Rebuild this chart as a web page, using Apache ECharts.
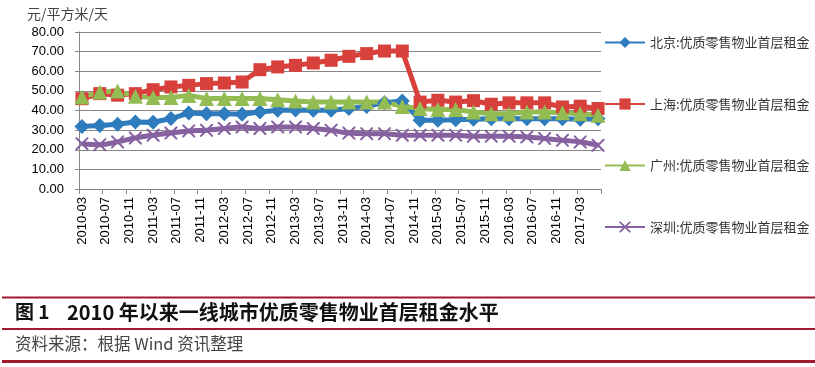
<!DOCTYPE html>
<html>
<head>
<meta charset="utf-8">
<script src="https://cdn.jsdelivr.net/npm/echarts@6/dist/echarts.min.js"></script>
<style>
html,body{margin:0;padding:0;background:#fff;}
#c{width:815px;height:367px;}
</style>
</head>
<body>
<div id="c"></div>
<script>
// Quarterly observation dates
const quarters = ['2010-03','2010-06','2010-09','2010-12','2011-03','2011-06','2011-09','2011-12',
  '2012-03','2012-06','2012-09','2012-12','2013-03','2013-06','2013-09','2013-12',
  '2014-03','2014-06','2014-09','2014-12','2015-03','2015-06','2015-09','2015-12',
  '2016-03','2016-06','2016-09','2016-12','2017-03','2017-06'];
const seriesNames = ['北京:优质零售物业首层租金','上海:优质零售物业首层租金','广州:优质零售物业首层租金','深圳:优质零售物业首层租金'];
const beijing = [31.9,32.3,33.0,34.1,34.0,35.9,38.7,38.3,38.3,38.1,39.2,40.1,40.3,40.1,40.1,41.0,42.1,44.0,44.8,35.0,35.0,35.3,35.5,35.8,35.8,35.8,35.8,35.8,35.5,35.8];
const shanghai = [46.0,48.6,47.8,48.6,50.6,52.0,52.8,53.7,54.0,54.5,60.8,62.2,63.0,64.2,65.6,67.6,69.0,70.3,70.3,44.3,45.2,44.3,45.0,43.2,43.9,43.9,43.9,41.8,42.2,41.0];
const guangzhou = [46.9,49.4,49.9,47.2,46.6,46.6,47.7,46.1,46.1,46.1,46.1,45.5,44.8,44.3,44.3,44.3,44.3,44.3,42.1,41.0,40.5,40.5,39.2,38.4,38.4,39.2,39.2,38.9,38.4,37.6];
const shenzhen = [23.1,22.6,24.0,26.0,27.4,28.5,29.6,29.9,30.8,31.6,30.8,31.6,31.6,30.8,29.9,28.5,28.2,28.2,27.4,27.4,27.4,27.4,26.9,26.9,26.9,26.5,25.7,24.8,24.0,22.3];
const unitLabel = '元/平方米/天';
const figTitleNo = '图 1';
const figTitle = '2010 年以来一线城市优质零售物业首层租金水平';
const sourceText = '资料来源：根据 Wind 资讯整理';

// monthly category axis (date axis, monthly base unit)
const months = [];
(function(){
  let y = 2010, m = 3;
  while (y < 2017 || (y === 2017 && m <= 6)) {
    months.push(y + '-' + (m < 10 ? '0' + m : '' + m));
    m++; if (m > 12) { m = 1; y++; }
  }
})();
function toMonthly(vals){
  const map = {};
  quarters.forEach((q,i)=>{ map[q] = vals[i]; });
  return months.map(mo => (mo in map) ? map[mo] : null);
}

const colors = ['#2E7CBD','#D8403B','#93BC52','#8661A0'];
const xPath = 'path://M0,0 L1.1,0 L5,3.9 L8.9,0 L10,0 L10,1.1 L6.1,5 L10,8.9 L10,10 L8.9,10 L5,6.1 L1.1,10 L0,10 L0,8.9 L3.9,5 L0,1.1 Z';

const chart = echarts.init(document.getElementById('c'), null, {renderer:'canvas'});
const gray = '#878787';
chart.setOption({
  animation: false,
  color: colors,
  grid: {left: 79, right: 214, top: 32, bottom: 178, containLabel: false},
  legend: {
    orient: 'vertical', left: 604, top: 36, padding: 0,
    itemWidth: 40, itemHeight: 14, itemGap: 48.5,
    textStyle: {fontSize: 13, color: '#333', fontFamily: 'Noto Sans CJK SC'},
    data: seriesNames
  },
  xAxis: {
    type: 'category', data: months, boundaryGap: true,
    axisLine: {lineStyle: {color: gray, width: 1}},
    axisTick: {show: true, interval: 3, length: 5, lineStyle: {color: gray}},
    axisLabel: {interval: 3, rotate: 90, fontSize: 13, color: '#000', margin: 8, fontFamily: 'Liberation Sans'},
    splitLine: {show: false}
  },
  yAxis: {
    type: 'value', min: 0, max: 80, interval: 10,
    axisLine: {show: true, lineStyle: {color: gray}},
    axisTick: {show: true, length: 4, lineStyle: {color: gray}},
    axisLabel: {formatter: v => v.toFixed(2), fontSize: 13, color: '#000', margin: 15, fontFamily: 'Liberation Sans'},
    splitLine: {lineStyle: {color: gray, width: 1}}
  },
  series: [
    {name: seriesNames[0], type: 'line', data: toMonthly(beijing), connectNulls: true, showAllSymbol: true,
     symbol: 'diamond', symbolSize: 15, lineStyle: {width: 5}, itemStyle: {color: colors[0]}},
    {name: seriesNames[1], type: 'line', data: toMonthly(shanghai), connectNulls: true, showAllSymbol: true,
     symbol: 'rect', symbolSize: 13, lineStyle: {width: 5}, itemStyle: {color: colors[1]}},
    {name: seriesNames[2], type: 'line', data: toMonthly(guangzhou), connectNulls: true, showAllSymbol: true,
     symbol: 'triangle', symbolSize: 15, lineStyle: {width: 5}, itemStyle: {color: colors[2]}},
    {name: seriesNames[3], type: 'line', data: toMonthly(shenzhen), connectNulls: true, showAllSymbol: true, smooth: 0.4,
     symbol: xPath, symbolSize: 13, lineStyle: {width: 5}, itemStyle: {color: colors[3]}}
  ],
  graphic: [
    {type: 'text', left: 27, top: 7, style: {text: unitLabel, fontSize: 14, fill: '#444', fontFamily: 'Noto Sans CJK SC'}},
    {type: 'rect', shape: {x: 2, y: 296.5, width: 813, height: 2}, style: {fill: '#A1192F'}},
    {type: 'rect', shape: {x: 2, y: 328, width: 813, height: 2}, style: {fill: '#A1192F'}},
    {type: 'rect', shape: {x: 2, y: 360, width: 813, height: 3}, style: {fill: '#A1192F'}},
    {type: 'text', left: 15, top: 302, style: {text: figTitleNo, fontSize: 19, fontWeight: 'bold', fill: '#111', fontFamily: 'Noto Sans CJK SC'}},
    {type: 'text', left: 67, top: 302, style: {text: figTitle, fontSize: 20, fontWeight: 'bold', fill: '#111', fontFamily: 'Noto Sans CJK SC'}},
    {type: 'text', left: 15, top: 335, style: {text: sourceText, fontSize: 16.5, fill: '#444', fontFamily: 'Noto Sans CJK SC'}}
  ]
});
</script>
</body>
</html>
